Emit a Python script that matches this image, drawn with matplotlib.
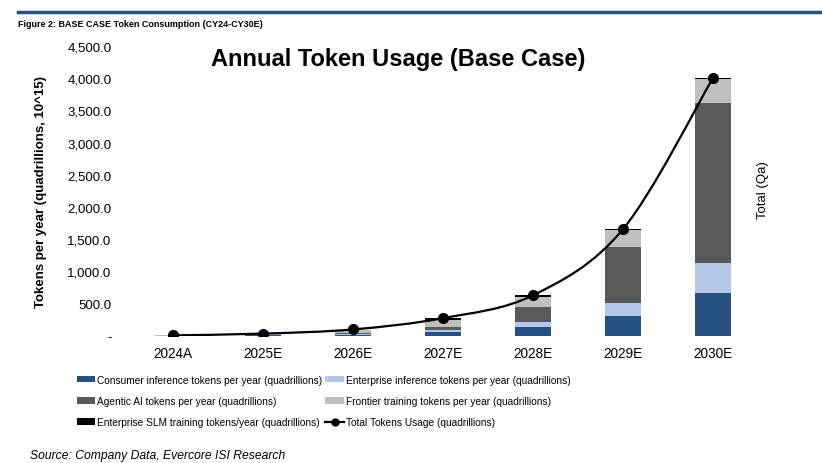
import matplotlib
matplotlib.use("Agg")
import matplotlib.pyplot as plt
from matplotlib.path import Path
from matplotlib.patches import PathPatch, Patch
from matplotlib.lines import Line2D
import numpy as np

plt.rcParams['font.family'] = ['Liberation Sans', 'DejaVu Sans']

categories = ["2024A", "2025E", "2026E", "2027E", "2028E", "2029E", "2030E"]
consumer = [2, 10, 20, 62, 140, 304, 667]
enterprise = [1, 5, 8, 25, 78, 207, 465]
agentic = [0, 3, 12, 55, 233, 868, 2476]
frontier = [5, 15, 50, 110, 155, 268, 375]
slm = [0, 2, 5, 25, 25, 15, 17]
total = [8, 35, 100, 275, 630, 1655, 4000]
yticks = [0, 500, 1000, 1500, 2000, 2500, 3000, 3500, 4000, 4500]

series = [
    ("Consumer inference tokens per year (quadrillions)", consumer, "#264F82"),
    ("Enterprise inference tokens per year (quadrillions)", enterprise, "#B4C7E7"),
    ("Agentic AI tokens per year (quadrillions)", agentic, "#595959"),
    ("Frontier training tokens per year (quadrillions)", frontier, "#BFBFBF"),
    ("Enterprise SLM training tokens/year (quadrillions)", slm, "#000000"),
]

fig = plt.figure(figsize=(8.22, 4.64), dpi=100)
ax = fig.add_axes([0.156, 0.274, 0.766, 0.625])

x = np.arange(len(categories))
bottom = np.zeros(len(categories))
handles = {}
for name, vals, col in series:
    v = np.array(vals, dtype=float)
    ax.bar(x, v, bottom=bottom, width=0.4, color=col, linewidth=0, zorder=2)
    bottom += v
    handles[name] = Patch(facecolor=col, edgecolor='none', label=name)

# smoothed total line (Bezier through the data points)
pts = np.column_stack([x, np.array(total, dtype=float)])
n = len(pts)
verts = [tuple(pts[0])]
codes = [Path.MOVETO]
for i in range(n - 1):
    p0 = pts[i - 1] if i > 0 else pts[i]
    p1 = pts[i]
    p2 = pts[i + 1]
    p3 = pts[i + 2] if i + 2 < n else pts[i + 1]
    c1 = p1 + (p2 - p0) / 6.0
    c2 = p2 - (p3 - p1) / 6.0
    verts += [tuple(c1), tuple(c2), tuple(p2)]
    codes += [Path.CURVE4] * 3
ax.add_patch(PathPatch(Path(verts, codes), facecolor='none', edgecolor='black',
                       linewidth=1.6, zorder=3, transform=ax.transData))
ax.plot(x, total, linestyle='none', marker='o', markersize=7, color='black', zorder=4)

ax.set_xlim(-0.5, len(categories) - 0.5)
ax.set_ylim(0, 4500)
ax.set_yticks(yticks)
ax.set_yticklabels(["-" if t == 0 else f"{t:,.1f}" for t in yticks], fontsize=9.5)
ax.set_xticks(x)
ax.set_xticklabels(categories, fontsize=9.8)
ax.tick_params(length=0)
ax.tick_params(axis='x', pad=7)
ax.tick_params(axis='y', pad=12)
for s in ax.spines.values():
    s.set_visible(False)

ax.set_ylabel("Tokens per year (quadrillions, 10^15)", fontsize=9.5, fontweight='bold')
ax.yaxis.set_label_coords(-0.129, 0.5)

fig.text(0.485, 0.858, "Annual Token Usage (Base Case)", fontsize=17, fontweight='bold',
         ha='center', va='baseline')
fig.text(0.921, 0.59, "Total (Qa)", rotation=90, fontsize=9.5, va='center', ha='left')

# Header
fig.add_artist(Line2D([0.022, 1.0], [0.972, 0.972], color="#284F80", linewidth=2.5,
                      transform=fig.transFigure))
fig.text(0.022, 0.947, "Figure 2: BASE CASE Token Consumption (CY24-CY30E)", fontsize=6.5,
         fontweight='bold', va='center', ha='left')
fig.text(0.036, 0.017, "Source: Company Data, Evercore ISI Research", fontsize=8.75,
         style='italic', va='center', ha='left')

total_handle = Line2D([], [], color='black', marker='o', markersize=5, linewidth=1.6,
                      label="Total Tokens Usage (quadrillions)")
names = [s[0] for s in series]
order = [handles[names[0]], handles[names[2]], handles[names[4]],
         handles[names[1]], handles[names[3]], total_handle]
fig.legend(handles=order, loc='upper left', bbox_to_anchor=(0.0937, 0.19), ncol=2,
           frameon=False, prop={'size': 7.3}, handlelength=1.8,
           handleheight=0.6, handletextpad=0.2, columnspacing=0.3, labelspacing=1.1,
           borderaxespad=0, borderpad=0)

fig.savefig("out.png", dpi=100)
